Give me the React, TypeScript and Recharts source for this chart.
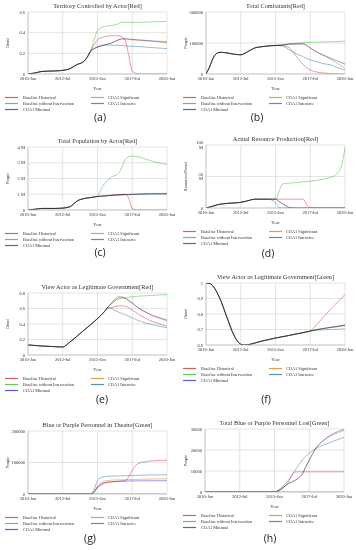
import React from 'react';
import { LineChart, Line, XAxis, YAxis, CartesianGrid } from 'recharts';

const SERIES_NAMES = [
  'Baseline Historical',
  'Baseline without Intervention',
  'COA1 Minimal',
  'COA1 Significant',
  'COA1 Intensive',
];
const SERIES_COLORS = ['#d65f5f', '#66c75a', '#5a5ad6', '#eb9a45', '#5b8fb5'];
const X_TICKS = [2010, 2012.5, 2015, 2017.5, 2020];
const X_TICK_LABELS = ['2010-Jan', '2012-Jul', '2015-Jan', '2017-Jul', '2020-Jan'];

// (a) Territory Controlled by Actor[Red]
const aYears = [2010, 2010.5, 2011, 2012, 2012.5, 2013, 2013.5, 2014, 2014.25, 2014.5, 2014.75, 2015, 2015.5, 2016, 2016.5, 2016.75, 2017, 2017.25, 2017.5, 2018, 2019, 2020];
const aHistorical = [0, 0.01, 0.025, 0.03, 0.035, 0.05, 0.09, 0.12, 0.16, 0.22, 0.28, 0.33, 0.36, 0.37, 0.37, 0.36, 0.32, 0.18, 0.03, 0, 0, 0];
const aWithout = [0, 0.01, 0.025, 0.03, 0.035, 0.05, 0.09, 0.12, 0.16, 0.22, 0.33, 0.42, 0.46, 0.47, 0.485, 0.5, 0.5, 0.5, 0.5, 0.5, 0.505, 0.51];
const aMinimal = [0, 0.01, 0.025, 0.03, 0.035, 0.05, 0.09, 0.12, 0.16, 0.22, 0.245, 0.26, 0.28, 0.3, 0.33, 0.34, 0.34, 0.338, 0.335, 0.33, 0.32, 0.31];
const aSignificant = [0, 0.01, 0.025, 0.03, 0.035, 0.05, 0.09, 0.12, 0.16, 0.22, 0.245, 0.26, 0.28, 0.3, 0.33, 0.34, 0.34, 0.335, 0.33, 0.325, 0.315, 0.3];
const aIntensive = [0, 0.01, 0.025, 0.03, 0.035, 0.05, 0.09, 0.12, 0.16, 0.22, 0.245, 0.265, 0.28, 0.28, 0.277, 0.275, 0.273, 0.27, 0.268, 0.265, 0.255, 0.245];
const aYTicks = [0, 0.2, 0.4, 0.6];
const aYTickLabels = ['0', '0.2', '0.4', '0.6'];

// (b) Total Combatants[Red]
const bYears = [2010, 2010.25, 2010.5, 2010.75, 2011, 2011.5, 2012, 2012.5, 2013, 2013.5, 2014, 2015, 2015.5, 2016, 2016.5, 2017, 2017.25, 2017.5, 2018, 2018.5, 2019, 2019.5, 2020];
const bHistorical = [0, 22000, 50000, 66000, 70000, 68000, 64000, 62000, 72000, 84000, 88000, 92000, 92000, 84000, 57000, 30000, 20000, 13000, 6000, 3000, 1500, 500, 0];
const bWithout = [0, 22000, 50000, 66000, 70000, 68000, 64000, 62000, 72000, 84000, 88000, 92000, 94000, 98000, 99000, 101000, 101500, 102000, 103000, 103500, 104000, 105000, 106000];
const bMinimal = [0, 22000, 50000, 66000, 70000, 68000, 64000, 62000, 72000, 84000, 88000, 92000, 94000, 96000, 97000, 97000, 92000, 84000, 70000, 60000, 50000, 41000, 32000];
const bSignificant = [0, 22000, 50000, 66000, 70000, 68000, 64000, 62000, 72000, 84000, 88000, 92000, 94000, 96000, 97000, 97000, 92000, 84000, 70000, 59000, 47000, 33000, 18000];
const bIntensive = [0, 22000, 50000, 66000, 70000, 68000, 64000, 62000, 72000, 84000, 88000, 92000, 90000, 77000, 65000, 56000, 50000, 46000, 39000, 33000, 29000, 20000, 12000];
const bYTicks = [0, 100000, 200000];
const bYTickLabels = ['0', '100000', '200000'];

// (c) Total Population by Actor[Red]  (millions)
const cYears = [2010, 2010.5, 2011, 2012, 2012.5, 2013, 2013.25, 2013.5, 2014, 2014.5, 2015, 2015.25, 2015.5, 2015.75, 2016, 2016.5, 2016.75, 2017, 2017.25, 2017.5, 2018, 2018.5, 2019, 2020];
const cHistorical = [0, 0.05, 0.1, 0.1, 0.12, 0.2, 0.36, 0.55, 0.72, 0.79, 0.86, 0.88, 0.9, 0.92, 0.94, 0.97, 0.99, 1.0, 0.75, 0.08, 0, 0, 0, 0];
const cWithout = [0, 0.05, 0.1, 0.1, 0.12, 0.2, 0.36, 0.55, 0.72, 0.79, 0.86, 1.3, 1.66, 1.9, 2.08, 2.3, 2.7, 3.2, 3.38, 3.42, 3.36, 3.22, 3.08, 2.89];
const cMinimal = [0, 0.05, 0.1, 0.1, 0.12, 0.2, 0.36, 0.55, 0.72, 0.79, 0.86, 0.87, 0.89, 0.91, 0.93, 0.96, 0.97, 0.98, 0.99, 1.0, 1.02, 1.03, 1.04, 1.05];
const cSignificant = [0, 0.05, 0.1, 0.1, 0.12, 0.2, 0.36, 0.55, 0.72, 0.79, 0.86, 0.87, 0.89, 0.91, 0.93, 0.96, 0.97, 0.98, 0.99, 1.0, 1.02, 1.04, 1.05, 1.06];
const cIntensive = [0, 0.05, 0.1, 0.1, 0.12, 0.2, 0.36, 0.55, 0.72, 0.79, 0.86, 0.87, 0.89, 0.91, 0.93, 0.95, 0.96, 0.97, 0.97, 0.98, 0.99, 0.99, 1.0, 1.0];
const cYTicks = [0, 1, 2, 3, 4];
const cYTickLabels = ['0', '1 M', '2 M', '3 M', '4 M'];

// (d) Actual Resource Production[Red]  (millions)
const dYears = [2010, 2010.5, 2011, 2012, 2012.5, 2013, 2013.25, 2013.5, 2014, 2014.5, 2015, 2015.25, 2015.5, 2015.75, 2016, 2016.5, 2017, 2017.25, 2017.5, 2018, 2018.5, 2019, 2019.5, 2019.75, 2020];
const dHistorical = [0, 3, 6, 8, 9, 11.5, 13, 14, 14, 14, 14, 14, 14, 14, 14, 14, 14, 5, 0.5, 0, 0, 0, 0, 0, 0];
const dWithout = [0, 3, 6, 8, 9, 11.5, 13, 14, 14, 14, 14, 26, 38, 39, 39.5, 40.5, 41.5, 42, 42.5, 44, 46, 49, 56, 67, 96];
const dMinimal = [0, 3, 6, 8, 9, 11.5, 13, 14, 14, 14, 14, 10.5, 7, 3.5, 0.8, 0, 0, 0, 0, 0, 0, 0, 0, 0, 0];
const dSignificant = [0, 3, 6, 8, 9, 11.5, 13, 14, 14, 14, 14, 10.5, 7, 3.5, 0.8, 0, 0, 0, 0, 0, 0, 0, 0, 0, 0];
const dIntensive = [0, 3, 6, 8, 9, 11.5, 13, 14, 14, 14, 8, 1, 0, 0, 0, 0, 0, 0, 0, 0, 0, 0, 0, 0, 0];
const dYTicks = [0, 50, 100];
const dYTickLabels = ['0', '50 M', '100 M'];

// (e) View Actor as Legitimate Government[Red]
const eYears = [2010, 2011, 2012, 2012.5, 2013, 2014, 2015, 2015.5, 2015.75, 2016, 2016.25, 2016.5, 2016.75, 2017, 2017.5, 2018, 2018.5, 2019, 2019.5, 2020];
const eHistorical = [0.13, 0.116, 0.107, 0.103, 0.165, 0.315, 0.47, 0.56, 0.6, 0.61, 0.625, 0.632, 0.635, 0.63, 0.58, 0.52, 0.47, 0.43, 0.4, 0.37];
const eWithout = [0.13, 0.116, 0.107, 0.103, 0.165, 0.315, 0.47, 0.56, 0.62, 0.66, 0.7, 0.72, 0.73, 0.74, 0.75, 0.76, 0.765, 0.77, 0.775, 0.78];
const eMinimal = [0.13, 0.116, 0.107, 0.103, 0.165, 0.315, 0.47, 0.56, 0.62, 0.67, 0.72, 0.75, 0.75, 0.73, 0.67, 0.6, 0.55, 0.51, 0.48, 0.45];
const eSignificant = [0.13, 0.116, 0.107, 0.103, 0.165, 0.315, 0.47, 0.56, 0.62, 0.66, 0.7, 0.73, 0.74, 0.73, 0.67, 0.6, 0.55, 0.5, 0.47, 0.44];
const eIntensive = [0.13, 0.116, 0.107, 0.103, 0.165, 0.315, 0.47, 0.56, 0.615, 0.6, 0.575, 0.555, 0.535, 0.52, 0.48, 0.44, 0.41, 0.39, 0.37, 0.35];
const eYTicks = [0, 0.2, 0.4, 0.6, 0.8];
const eYTickLabels = ['0', '0.2', '0.4', '0.6', '0.8'];

// (f) View Actor as Legitimate Government[Green]
const fYears = [2010, 2010.25, 2010.5, 2011, 2011.5, 2012, 2012.5, 2012.75, 2013, 2014, 2015, 2016, 2017, 2017.5, 2018, 2018.5, 2019, 2019.5, 2020];
const fHistorical = [1.0, 0.998, 0.98, 0.9, 0.78, 0.665, 0.605, 0.6, 0.602, 0.625, 0.645, 0.662, 0.68, 0.69, 0.735, 0.785, 0.835, 0.88, 0.926];
const fWithout = [1.0, 0.998, 0.98, 0.9, 0.78, 0.665, 0.605, 0.6, 0.602, 0.625, 0.645, 0.662, 0.68, 0.69, 0.695, 0.698, 0.7, 0.702, 0.705];
const fMinimal = [1.0, 0.998, 0.98, 0.9, 0.78, 0.665, 0.605, 0.6, 0.602, 0.625, 0.645, 0.662, 0.68, 0.69, 0.7, 0.708, 0.715, 0.722, 0.73];
const fSignificant = [1.0, 0.998, 0.98, 0.9, 0.78, 0.665, 0.605, 0.6, 0.602, 0.625, 0.645, 0.662, 0.68, 0.69, 0.7, 0.707, 0.714, 0.72, 0.728];
const fIntensive = [1.0, 0.998, 0.98, 0.9, 0.78, 0.665, 0.605, 0.6, 0.602, 0.625, 0.645, 0.662, 0.68, 0.69, 0.699, 0.706, 0.713, 0.719, 0.725];
const fYTicks = [0.6, 0.7, 0.8, 0.9, 1];
const fYTickLabels = ['0.6', '0.7', '0.8', '0.9', '1'];

// (g) Blue or Purple Personnel in Theatre[Green]
const gYears = [2010, 2014.5, 2014.75, 2015, 2015.25, 2015.5, 2016, 2016.5, 2017, 2017.25, 2017.5, 2017.75, 2018, 2018.5, 2019, 2020];
const gHistorical = [0, 0, 5000, 20000, 29000, 34000, 38000, 40000, 42000, 55000, 75000, 91000, 98000, 103000, 105500, 107000];
const gWithout = [0, 0, 0, 0, 0, 0, 0, 0, 0, 0, 0, 0, 0, 0, 0, 0];
const gMinimal = [0, 0, 6000, 22000, 31000, 36000, 39000, 40500, 41000, 41200, 41500, 41700, 41800, 42000, 42000, 42000];
const gSignificant = [0, 0, 8000, 25000, 36000, 41000, 44000, 45000, 45500, 45700, 46000, 46200, 46500, 47000, 47500, 48000];
const gIntensive = [0, 0, 15000, 42000, 52000, 55000, 57000, 57500, 58000, 58200, 58500, 59000, 59500, 60000, 60500, 61000];
const gYTicks = [0, 100000, 200000];
const gYTickLabels = ['0', '100000', '200000'];

// (h) Total Blue or Purple Personnel Lost[Green]
const hYears = [2010, 2015, 2015.5, 2016, 2016.25, 2016.5, 2016.75, 2017, 2017.25, 2017.5, 2018, 2018.5, 2019, 2019.5, 2020];
const hHistorical = [0, 0, 1500, 4700, 8000, 9500, 9600, 9600, 9600, 9600, 9600, 9600, 9600, 9600, 9600];
const hWithout = [0, 0, 0, 0, 0, 0, 0, 0, 0, 0, 0, 0, 0, 0, 0];
const hMinimal = [0, 0, 1500, 4000, 4800, 5600, 6800, 8500, 12000, 15200, 21000, 24500, 27000, 28600, 30000];
const hSignificant = [0, 0, 1500, 4000, 4800, 5600, 6800, 8500, 12000, 15200, 21000, 24300, 26600, 28000, 29300];
const hIntensive = [0, 0, 2200, 5600, 8000, 10500, 13000, 15200, 17000, 18400, 20800, 22300, 23600, 24800, 26000];
const hYTicks = [0, 10000, 20000, 30000];
const hYTickLabels = ['0', '10000', '20000', '30000'];

const FONT = "'Liberation Serif', 'Times New Roman', serif";
const PLOT_W = 139;
const PANEL_W = 178;

type PanelDef = {
  title: string;
  yLabel: string;
  x: number[];
  series: number[][];
  yDomain: [number, number];
  yTicks: number[];
  yTickLabels: string[];
  ox: number;
  plotLeft: number;
  plotTop: number;
  plotBottom: number;
  letter: string;
  letterX: number;
  letterY: number;
};

const PANELS: PanelDef[] = [
  { title: 'Territory Controlled by Actor[Red]', yLabel: 'Dmnl', x: aYears, series: [aHistorical, aWithout, aMinimal, aSignificant, aIntensive], yDomain: [0, 0.6], yTicks: aYTicks, yTickLabels: aYTickLabels, ox: 0, plotLeft: 28, plotTop: 12, plotBottom: 74, letter: '(a)', letterX: 100, letterY: 117 },
  { title: 'Total Combatants[Red]', yLabel: 'People', x: bYears, series: [bHistorical, bWithout, bMinimal, bSignificant, bIntensive], yDomain: [0, 200000], yTicks: bYTicks, yTickLabels: bYTickLabels, ox: 178, plotLeft: 28, plotTop: 12, plotBottom: 74, letter: '(b)', letterX: 257, letterY: 117 },
  { title: 'Total Population by Actor[Red]', yLabel: 'People', x: cYears, series: [cHistorical, cWithout, cMinimal, cSignificant, cIntensive], yDomain: [0, 4], yTicks: cYTicks, yTickLabels: cYTickLabels, ox: 0, plotLeft: 28, plotTop: 147, plotBottom: 210, letter: '(c)', letterX: 100, letterY: 252 },
  { title: 'Actual Resource Production[Red]', yLabel: 'Resources/Period', x: dYears, series: [dHistorical, dWithout, dMinimal, dSignificant, dIntensive], yDomain: [0, 100], yTicks: dYTicks, yTickLabels: dYTickLabels, ox: 178, plotLeft: 28, plotTop: 145, plotBottom: 208, letter: '(d)', letterX: 268, letterY: 253 },
  { title: 'View Actor as Legitimate Government[Red]', yLabel: 'Dmnl', x: eYears, series: [eHistorical, eWithout, eMinimal, eSignificant, eIntensive], yDomain: [0, 0.8], yTicks: eYTicks, yTickLabels: eYTickLabels, ox: 0, plotLeft: 28, plotTop: 293, plotBottom: 355, letter: '(e)', letterX: 102, letterY: 399 },
  { title: 'View Actor as Legitimate Government[Green]', yLabel: 'Dmnl', x: fYears, series: [fHistorical, fWithout, fMinimal, fSignificant, fIntensive], yDomain: [0.6, 1], yTicks: fYTicks, yTickLabels: fYTickLabels, ox: 178, plotLeft: 28, plotTop: 283, plotBottom: 345, letter: '(f)', letterX: 266, letterY: 399 },
  { title: 'Blue or Purple Personnel in Theatre[Green]', yLabel: 'People', x: gYears, series: [gHistorical, gWithout, gMinimal, gSignificant, gIntensive], yDomain: [0, 200000], yTicks: gYTicks, yTickLabels: gYTickLabels, ox: 0, plotLeft: 28, plotTop: 431, plotBottom: 494, letter: '(g)', letterX: 90, letterY: 538 },
  { title: 'Total Blue or Purple Personnel Lost[Green]', yLabel: 'People', x: hYears, series: [hHistorical, hWithout, hMinimal, hSignificant, hIntensive], yDomain: [0, 30000], yTicks: hYTicks, yTickLabels: hYTickLabels, ox: 178, plotLeft: 27, plotTop: 429, plotBottom: 492, letter: '(h)', letterX: 270, letterY: 538 },
];

function PanelChart({ p }: { p: PanelDef }) {
  const data = p.x.map((x, i) => {
    const row: Record<string, number> = { x };
    p.series.forEach((s, k) => {
      row['s' + k] = s[i];
    });
    return row;
  });
  const topPad = 4;
  const axisH = 12;
  const plotH = p.plotBottom - p.plotTop;
  const right = PANEL_W - (p.plotLeft + PLOT_W);
  const tickStyle = { fontSize: 4.5, fill: '#333', fontFamily: FONT };
  return (
    <div style={{ position: 'absolute', left: p.ox, top: p.plotTop - topPad }}>
      <LineChart
        width={PANEL_W}
        height={topPad + plotH + axisH}
        data={data}
        margin={{ top: topPad, right, bottom: 0, left: 0 }}
      >
        <CartesianGrid stroke="#d9d9d9" strokeWidth={0.7} />
        <XAxis
          dataKey="x"
          type="number"
          domain={[2010, 2020]}
          ticks={X_TICKS}
          interval={0}
          tickFormatter={(v: number) => X_TICK_LABELS[X_TICKS.indexOf(v)]}
          height={axisH}
          tickLine={false}
          axisLine={{ stroke: '#bdbdbd', strokeWidth: 0.7 }}
          tickSize={0}
          tickMargin={3}
          tick={tickStyle}
          allowDataOverflow
        />
        <YAxis
          type="number"
          domain={p.yDomain}
          ticks={p.yTicks}
          interval={0}
          tickFormatter={(v: number) => p.yTickLabels[p.yTicks.indexOf(v)]}
          width={p.plotLeft}
          tickLine={false}
          axisLine={{ stroke: '#bdbdbd', strokeWidth: 0.7 }}
          tickSize={0}
          tickMargin={3}
          tick={tickStyle}
          allowDataOverflow
        />
        {p.series.map((_, k) => (
          <Line
            key={k}
            dataKey={'s' + k}
            stroke={SERIES_COLORS[k]}
            strokeWidth={1}
            strokeOpacity={0.6}
            dot={false}
            type="monotone"
            isAnimationActive={false}
            style={{ mixBlendMode: 'multiply' }}
          />
        ))}
      </LineChart>
    </div>
  );
}

function Overlay() {
  const legendLeft = [0, 1, 2];
  const legendRight = [3, 4];
  return (
    <svg width={356} height={550} style={{ position: 'absolute', left: 0, top: 0, pointerEvents: 'none' }}>
      {PANELS.map((p, i) => {
        const cx = p.ox + p.plotLeft + PLOT_W / 2;
        const cy = (p.plotTop + p.plotBottom) / 2;
        const ly = p.plotBottom + 23.5;
        return (
          <g key={i}>
            <text x={cx} y={p.plotTop - 7} textAnchor="middle" dominantBaseline="central" fontSize={6.3} fill="#333" fontFamily={FONT}>
              {p.title}
            </text>
            <text x={cx} y={p.plotBottom + 14} textAnchor="middle" dominantBaseline="central" fontSize={4.5} fill="#333" fontFamily={FONT}>
              Year
            </text>
            <text
              x={p.ox + 7}
              y={cy}
              textAnchor="middle"
              dominantBaseline="central"
              fontSize={4.2}
              fill="#333"
              fontFamily={FONT}
              transform={`rotate(-90 ${p.ox + 7} ${cy})`}
            >
              {p.yLabel}
            </text>
            {legendLeft.map((k, r) => (
              <g key={'l' + k}>
                <rect x={p.ox + 5} width={13} y={ly + r * 6 - 0.6} height={1.2} fill={SERIES_COLORS[k]} />
                <text x={p.ox + 23} y={ly + r * 6} dominantBaseline="central" fontSize={4.3} fill="#333" fontFamily={FONT}>
                  {SERIES_NAMES[k]}
                </text>
              </g>
            ))}
            {legendRight.map((k, r) => (
              <g key={'r' + k}>
                <rect x={p.ox + 91} width={13} y={ly + r * 6 - 0.6} height={1.2} fill={SERIES_COLORS[k]} />
                <text x={p.ox + 108} y={ly + r * 6} dominantBaseline="central" fontSize={4.3} fill="#333" fontFamily={FONT}>
                  {SERIES_NAMES[k]}
                </text>
              </g>
            ))}
            <text x={p.letterX} y={p.letterY} textAnchor="middle" dominantBaseline="central" fontSize={10.5} fill="#222" fontFamily="'Open Sans', 'Liberation Sans', sans-serif">
              {p.letter}
            </text>
          </g>
        );
      })}
    </svg>
  );
}

export default function App() {
  return (
    <div style={{ position: 'absolute', left: 0, top: 0, width: 356, height: 550, background: '#fff', overflow: 'hidden' }}>
      {PANELS.map((p, i) => (
        <PanelChart key={i} p={p} />
      ))}
      <Overlay />
    </div>
  );
}
